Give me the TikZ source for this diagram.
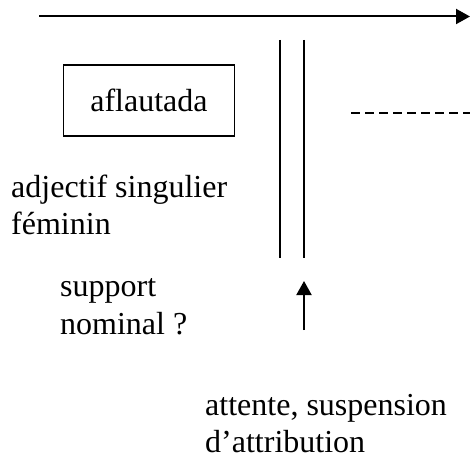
\documentclass[tikz,border=0pt]{standalone}
\usepackage{fontspec}
\setmainfont{Liberation Serif}
\usetikzlibrary{arrows.meta}
\begin{document}
\begin{tikzpicture}[x=1bp,y=-1bp,
  lbl/.style={inner sep=0pt,anchor=base west,align=left,font=\fontsize{32bp}{37.5bp}\selectfont},
  line/.style={line width=1.9bp},
  arr/.style={line width=2bp,-{Triangle[length=14bp,width=15bp]}},
  boxed/.style={draw,line width=1.9bp,minimum width=171bp,minimum height=71bp,inner sep=0pt,font=\fontsize{32bp}{37bp}\selectfont}]
\useasboundingbox (0,0) rectangle (470,458);
% top arrow
\coordinate (ta) at (39,16.5);
\coordinate (tb) at (470,16.5);
\draw[arr] (ta) -- (tb);
% box
\node[boxed] (box) at (149,100.5) {aflautada};
% vertical double line
\coordinate (v1t) at (280,40);
\coordinate (v1b) at (280,258);
\coordinate (v2t) at (304,40);
\coordinate (v2b) at (304,258);
\draw[line] (v1t) -- (v1b);
\draw[line] (v2t) -- (v2b);
% dashed line
\coordinate (da) at (351,113);
\coordinate (db) at (470,113);
\draw[line,dash pattern=on 9bp off 5bp] (da) -- (db);
% up arrow
\coordinate (ua) at (304,330);
\coordinate (ub) at (304,281);
\draw[arr] (ua) -- (ub);
% texts
\node[lbl] (adj) at (11,235) {adjectif singulier\\féminin};
\node[lbl] (sup) at (60,334) {support\\nominal ?};
\node[lbl] (att) at (205,452.5) {attente, suspension\\d’attribution};
\end{tikzpicture}
\end{document}
